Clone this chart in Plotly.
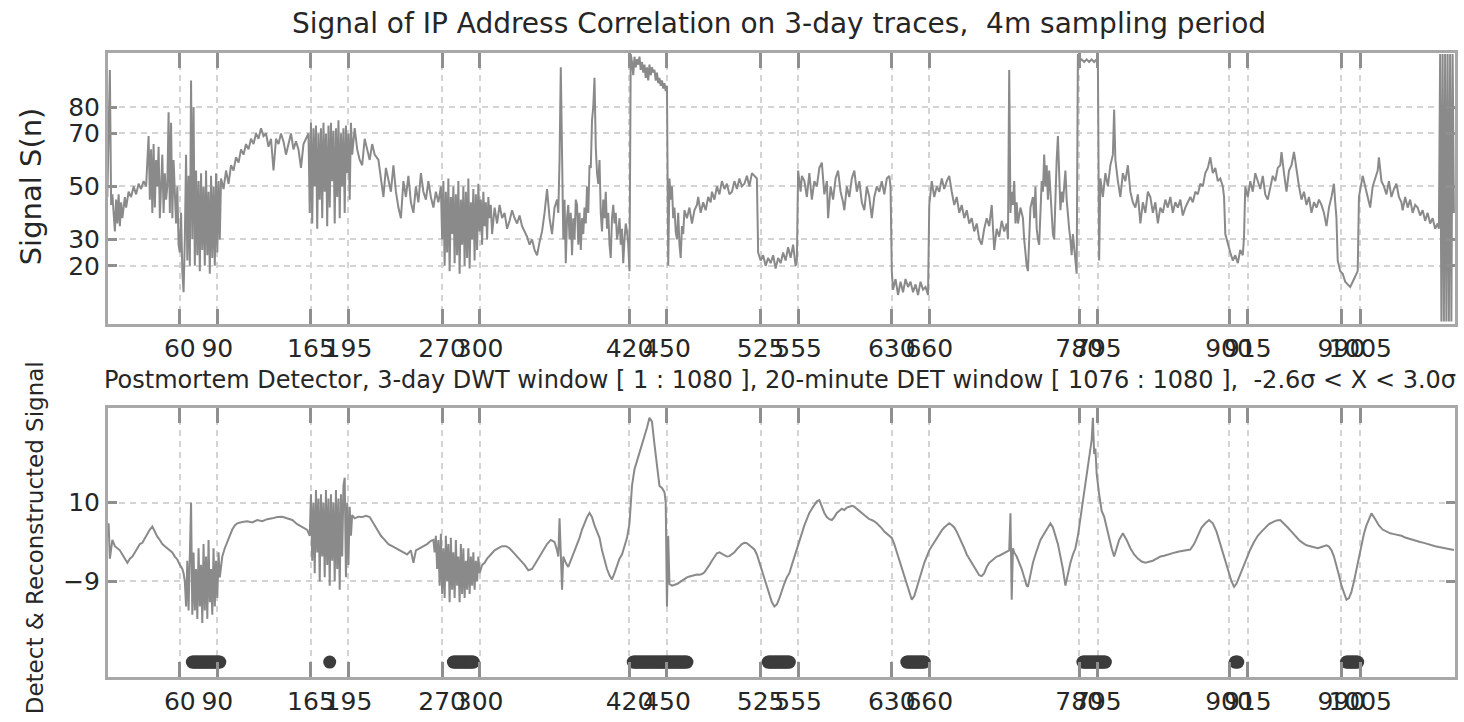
import plotly.graph_objects as go

# ---------------- data ----------------
top_signal = [
    (2,46),(4,94),(5,43),(6,47),(8,33),(9,45),(10,36),(11,47),(12,35),(13,44),(14,38),(16,46),(17,42),
    (19,48),(21,46),(23,50),(25,47),(27,51),(29,49),(31,52),(33,50),
    (35,69),(36,45),(37,64),(38,40),(39,66),(40,42),(41,60),(42,50),(43,65),(44,38),(45,48),(46,62),(47,40),
    (48,55),(49,45),(50,50),(51,78),(52,40),(53,74),(54,38),(55,60),(56,45),(57,36),(58,50),(59,28),(60,25),
    (61,40),(62,18),(63,10),(64,30),(65,62),(66,22),(67,54),(68,20),(69,90),(70,30),(71,80),(72,20),(73,56),
    (74,24),(75,52),(76,18),(77,55),(78,26),(79,50),(80,20),(81,56),(82,24),(83,48),(84,17),(85,54),(86,23),
    (87,50),(88,20),(89,55),(90,25),(91,52),(92,30),
    (93,53),(95,49),(97,56),(99,51),(101,58),(103,56),(105,61),(107,59),(109,64),(111,62),(113,66),(115,64),
    (117,68),(119,66),(121,70),(123,68),
    (125,72),(127,69),(129,70),(131,65),(133,68),(135,56),(137,68),(139,66),(141,70),(143,67),(145,62),
    (147,66),(149,70),(151,64),(153,67),(155,64),(157,57),(159,66),(161,68),(163,70),
    (164,40),(165,74),(166,36),(167,72),(168,50),(169,73),(170,34),(171,70),(172,45),(173,72),(174,38),
    (175,74),(176,48),(177,70),(178,35),(179,73),(180,42),(181,74),(182,52),(183,71),(184,36),(185,72),
    (186,46),(187,75),(188,38),(189,70),(190,50),(191,72),(192,40),(193,73),(194,55),(195,70),(196,45),
    (197,74),(198,62),
    (200,72),(202,64),(204,60),(206,58),(208,68),(210,64),(212,60),(214,66),(216,62),
    (219,60),(221,52),(223,46),(225,57),(227,53),(229,48),(231,58),(233,48),(235,42),(237,38),(239,52),
    (241,46),(243,54),(245,44),(247,40),(249,50),(251,44),(253,55),(255,48),(257,45),(259,52),(261,46),
    (263,42),(265,48),(267,44),(269,50),
    (270,30),(271,52),(272,20),(273,48),(274,25),(275,53),(276,18),(277,46),(278,32),(279,50),(280,21),
    (281,47),(282,24),(283,52),(284,17),(285,45),(286,28),(287,50),(288,20),(289,48),(290,23),(291,53),
    (292,19),(293,44),(294,30),(295,49),(296,22),(297,47),(298,26),(299,51),(300,33),(301,45),(302,28),
    (303,48),(304,35),(305,44),(306,30),(307,46),(308,38),(309,43),(310,32),(312,42),(314,36),
    (316,43),(318,38),(320,40),(322,34),(324,37),(326,41),(328,38),(330,36),(332,39),(334,35),(336,33),
    (338,31),(340,28),(342,30),(344,26),(346,24),(348,29),(350,33),(352,40),(354,49),(356,38),(358,32),
    (360,42),(362,45),
    (363,40),(364,60),(365,95),(366,55),(367,30),(368,45),(369,21),(370,38),(371,43),(372,30),(373,40),
    (374,24),(375,38),(376,30),(377,45),(378,43),(379,28),(380,40),(381,26),(382,38),(383,32),(384,42),
    (385,36),(386,50),(387,40),(388,58),(389,57),(390,75),(391,80),(392,91),(393,65),(394,55),(395,51),
    (396,60),(397,40),(398,33),(399,45),(400,38),(401,48),(402,34),(403,40),(404,28),(405,23),(406,38),
    (407,43),(408,36),(409,40),(410,30),(411,33),(412,38),(413,28),(414,34),(415,21),(416,30),(417,36),
    (418,33),(419,28),(420,18),
    (421,100),(422,97),(423,92),(424,99),(425,95),(426,98),(427,96),(428,99),(429,94),(430,97),(431,93),
    (432,96),(433,91),(434,95),(435,90),(436,96),(437,92),(438,95),(439,93),(440,94),(441,90),(442,93),
    (443,89),(444,91),(445,88),(446,90),(447,87),(448,89),(449,86),(450,88),(451,20),
    (452,53),(453,45),(454,50),(455,38),(456,42),(457,33),(458,30),(459,40),(460,28),(461,23),(462,35),
    (463,32),(464,41),(466,38),(468,42),(470,36),(472,41),(474,43),(475,46),(477,40),(479,44),(481,41),
    (483,46),(485,44),(486,48),(488,45),(490,50),(492,47),(494,52),(496,49),(498,51),(500,47),(502,48),
    (504,52),(506,49),(508,53),(510,50),(512,51),(514,54),(516,50),(518,55),(520,54),(522,53),
    (523,25),(525,22),(527,24),(529,20),(531,23),(533,21),(535,24),(537,19),(539,23),(541,21),(543,25),
    (545,22),(547,27),(549,23),(551,28),(553,20),(554,22),
    (555,56),(557,48),(558,54),(560,52),(562,46),(564,55),(566,45),(568,52),(570,50),(572,57),(574,59),
    (576,47),(578,52),(579,38),(581,50),(583,45),(585,53),(587,56),(589,48),(591,44),(592,41),(594,50),
    (596,46),(598,53),(600,56),(602,48),(604,52),(606,44),(608,41),(610,50),(612,46),(614,38),(616,46),
    (618,50),(620,48),(622,52),(624,47),(626,53),(628,54),(629,50),
    (630,18),(631,11),(633,15),(635,9),(637,14),(639,10),(641,15),(643,12),(645,14),(647,10),(649,13),
    (651,9),(653,14),(655,11),(657,12),(659,9),
    (660,43),(662,52),(664,46),(666,50),(668,48),(670,53),(672,49),(674,52),(676,54),(678,48),(680,43),
    (682,46),(684,40),(686,43),(688,38),(690,41),(692,36),(694,38),(696,33),(698,36),(700,30),(702,28),
    (704,34),(706,38),(708,35),(710,43),(711,32),(712,26),(714,34),(716,31),(718,37),(720,33),(722,36),
    (723,30),
    (724,94),(725,40),(726,48),(727,43),(728,52),(729,36),(730,44),(731,36),(733,42),(735,38),(736,30),
    (737,24),(738,20),(739,18),(740,35),(741,42),(743,46),(744,38),(745,50),(746,34),(747,30),(748,28),
    (749,40),(750,52),(751,48),(752,62),(753,50),(754,58),(755,45),(756,56),(757,48),(758,40),(759,32),
    (760,30),(761,50),(762,60),(763,69),(764,52),(765,41),(766,48),(767,44),(768,50),(769,56),(770,45),
    (771,38),(772,34),(773,30),(774,24),(775,32),(776,28),(777,22),(778,17),
    (779,100),(780,97),(782,98),(784,97),(786,98),(788,97),(790,98),(792,97),(794,98),(795,97),(796,22),
    (797,53),(799,46),(801,55),(803,50),(805,58),(807,62),(808,79),(809,60),(811,52),(813,46),(815,55),
    (817,52),(819,58),(821,48),(823,44),(825,42),(827,47),(829,36),(831,44),(833,40),(835,48),(837,46),
    (839,40),(841,44),(843,36),(845,42),(847,40),(849,45),(851,42),(853,46),(855,40),(857,44),(859,42),
    (861,45),(863,39),(865,42),(867,44),(869,46),(871,44),(873,48),(875,47),(877,51),(879,50),(881,55),
    (883,57),(885,61),(887,55),(889,57),(891,52),(893,53),(895,50),(896,46),
    (897,32),(899,28),(901,25),(903,22),(905,24),(907,21),(909,26),(911,24),(912,31),
    (913,50),(915,46),(917,52),(919,48),(921,55),(923,52),(925,49),(927,54),(929,47),(931,45),(933,50),
    (935,54),(937,52),(939,57),(941,58),(942,63),(944,55),(946,48),(948,56),(950,58),(952,63),(954,56),
    (956,50),(958,45),(960,48),(962,43),(964,46),(966,40),(968,44),(970,42),(972,45),(974,43),(976,40),
    (978,35),(980,42),(982,46),(984,51),(985,44),(986,38),
    (987,22),(989,18),(991,17),(993,14),(995,13),(997,12),(999,14),(1001,16),(1003,18),
    (1004,46),(1006,52),(1007,54),(1009,50),(1011,46),(1013,42),(1015,50),(1017,53),(1019,56),(1020,61),
    (1022,52),(1024,50),(1026,47),(1028,52),(1030,46),(1032,49),(1034,51),(1036,46),(1038,44),(1039,41),
    (1041,46),(1043,42),(1045,45),(1047,40),(1049,43),(1051,42),(1053,39),(1055,41),(1057,37),(1059,40),
    (1061,36),(1063,38),(1065,34),(1067,36),(1068,34),
    (1069,100),(1070,-1),(1071,100),(1072,-1),(1073,100),(1074,-1),(1075,100),(1076,-1),(1077,100),
    (1078,-1),(1079,100),(1080,40),
]

bottom_signal = [
    (2,2),(3,5),(4,-3.5),(6,1),(8,-0.5),(10,-1),(12,-1.5),(14,-2.5),(16,-3.5),(18,-4.5),(20,-3.5),(22,-3),
    (24,-2),(26,-1),(28,0),(30,0.3),(32,1.5),(34,2.5),(36,3.5),(38,4.2),(40,3),(42,1.8),(44,1),(46,0),
    (48,-0.5),(50,-1),(52,-1.3),(54,-2),(56,-3),(58,-3.7),(60,-5),(62,-6),(63,-7),
    (64,-9),(65,-15),(66,-4),(67,-16),(68,-5),(69,10),(70,-17),(71,-2),(72,-16),(73,-6),(74,-18),(75,-1),
    (76,-15),(77,-5),(78,-19),(79,0),(80,-16),(81,-3),(82,-18),(83,1),(84,-14),(85,-6),(86,-17),(87,-1),
    (88,-15),(89,-4),(90,-13),(91,-2),(92,-8),
    (94,-3),(96,-1),(98,0.5),(100,2),(102,3.5),(104,4.5),(106,5),(110,5.3),(114,5.5),(118,5.2),(122,5.8),
    (126,5.5),(130,6),(134,6.2),(138,6.5),(142,6.6),(146,6.2),(150,5.8),(154,4.8),(158,4),(162,3.4),
    (164,2),(165,12),(166,-4),(167,10),(168,-7),(169,13),(170,-2),(171,11),(172,-9),(173,12),(174,-3),
    (175,10),(176,-8),(177,13),(178,-5),(179,11),(180,-10),(181,12),(182,-4),(183,10),(184,-9),(185,13),
    (186,-6),(187,11),(188,-11),(189,12),(190,-3),(191,14),(192,16),(193,-8),(194,10),(195,-5),(196,9),
    (197,2),(198,7),
    (200,6.2),(203,6.6),(206,6.5),(209,6.8),(212,6.5),(215,5),(218,3.5),(221,2),(224,1),(227,0),(230,-0.5),
    (233,-1),(236,-1.3),(239,-2),(242,-2.5),(245,-1.5),(247,-4.5),(249,-1.5),(252,-1),(255,-0.5),(258,0),
    (261,0.8),(263,1),
    (264,-2),(265,2),(266,-6),(267,1),(268,-10),(269,2.5),(270,-12),(271,-1),(272,-13),(273,2),(274,-9),
    (275,0),(276,-14),(277,1.5),(278,-11),(279,-2),(280,-13),(281,1),(282,-10),(283,-3),(284,-14),(285,0),
    (286,-12),(287,-1),(288,-13),(289,-4),(290,-11),(291,-1),(292,-12),(293,-3),(294,-10),(295,-2),
    (296,-11),(297,-4),(298,-9),(299,-3),(300,-7),(302,-5),(304,-4.5),
    (306,-3.5),(309,-2.5),(312,-1.5),(315,-1),(318,-0.5),(321,-0.5),(324,-1),(327,-2),(330,-3),(333,-4),
    (336,-5),(339,-6.3),(342,-6),(345,-4.5),(348,-3),(351,-1.5),(354,0),(357,1),(360,0.5),(362,-1.5),
    (363,-3),(364,6.2),(365,-1),(366,-11),(367,-3),(369,-4.5),(371,-5.5),(373,-4),(375,-2.5),(377,-1),
    (380,1.5),(382,3.5),(384,5),(386,6.5),(388,7.5),(390,6.5),(392,4.5),(394,3),(396,1.5),(398,-1.5),
    (400,-4),(402,-6),(404,-7.5),(406,-8.5),(408,-7),(410,-5),(412,-3.5),(414,-2.5),(416,-0.5),(418,1.5),
    (420,5),(422,14),(424,18),(426,20),(428,22),(430,23.5),(432,25.5),(434,28),(436,30.4),(438,29.5),
    (440,24),(442,19),(444,14),(446,13.5),(448,12.5),(449,10),(450,-15),(451,2),(452,-9.6),(454,-10),
    (456,-9.8),(458,-9.6),(460,-9.2),(462,-8.8),(464,-8.2),(466,-8),(468,-7.8),(470,-7.6),(472,-7.5),
    (474,-7.3),(476,-7.4),(478,-7.2),(480,-6.8),(482,-6),(484,-5),(486,-4),(488,-3),(490,-2.2),(492,-2),
    (494,-2.4),(496,-2.8),(498,-3),(500,-2.9),(502,-2.5),(504,-2),(506,-1.2),(508,-0.5),(510,0),(512,0.3),
    (514,0.2),(516,-0.3),(518,-0.8),(520,-1.3),(522,-2.5),(524,-4.5),(526,-6.5),(528,-8.5),(530,-10.5),
    (532,-12.5),(534,-14),(536,-15),(538,-14.5),(540,-13),(542,-11),(544,-9.5),(546,-8),(548,-7),(550,-5),
    (552,-3),(554,-1),(556,1),(558,3),(560,4.5),(562,6),(564,7.5),(566,8.5),(568,9.5),(570,10.3),
    (572,10.6),(574,9),(576,7.5),(578,6.5),(580,6),(582,5.8),(584,6.5),(586,7.5),(588,8),(590,8.5),
    (592,8.2),(594,8.8),(596,9),(598,9.2),(600,9),(602,8.6),(604,8),(606,7.5),(608,7),(610,6.6),(612,6),
    (614,5.8),(616,5.5),(618,5),(620,4.5),(622,3.8),(624,3),(626,2.5),(628,2),(630,1.5),(632,0),(634,-2),
    (636,-4),(638,-6),(640,-8),(642,-10),(644,-12),(646,-13.4),(648,-12.5),(650,-10.5),(652,-8),(654,-6),
    (656,-4.5),(658,-3),(660,-1.5),(662,-0.5),(664,0.5),(666,1.5),(668,2.5),(670,3.3),(672,4),(674,4.6),
    (676,5),(678,4.6),(680,4),(682,3),(684,1.8),(686,0.5),(688,-1),(690,-2.5),(692,-3.5),(694,-4.5),
    (696,-5.5),(698,-6.5),(700,-7.5),(702,-7.7),(704,-7),(706,-5.5),(708,-4.5),(710,-4),(712,-3.5),
    (714,-3),(716,-2.8),(718,-2.5),(720,-2.3),(722,-2),(724,-1.5),(725,7.4),(726,-13.4),(727,-1),(728,-2),
    (730,-3),(732,-4.5),(734,-6),(736,-8),(738,-10),(739,-10.3),(741,-7),(743,-4.5),(745,-2.5),(747,-0.5),
    (749,1),(751,2),(753,3),(755,4),(757,5),(759,4),(761,2),(763,0),(765,-3),(767,-6),(769,-10),(771,-7),
    (773,-4.5),(775,-2.5),(777,-1),(779,2),(781,6),(783,10),(785,14),(787,18),(789,23),(790,25),(791,30.4),
    (792,21.7),(793,23),(794,17),(796,12),(798,8),(800,6.6),(802,4),(804,1),(806,-1),(808,-3),(810,-1),
    (812,1),(815,2.6),(818,1),(821,-1),(824,-2.5),(827,-3.5),(830,-4.2),(833,-4.5),(836,-4.3),(839,-4),
    (842,-3.5),(845,-3),(848,-2.8),(851,-2.5),(854,-2.2),(857,-2),(860,-1.8),(863,-1.6),(866,-1.5),
    (869,-1.3),(872,0),(875,2),(878,4),(881,5),(884,5.8),(887,5),(890,3),(893,0),(896,-3),(899,-6),
    (902,-9),(904,-10.3),(906,-9.5),(908,-8),(910,-6.5),(912,-5),(914,-3.5),(917,-1.3),(920,0.5),(923,2),
    (926,3),(929,4),(932,4.8),(935,5.3),(938,5.7),(941,5.8),(944,5),(947,4),(950,3),(953,2),(956,1),
    (959,0.3),(962,-0.3),(965,-0.5),(968,-0.8),(971,-1),(974,-0.7),(976,-0.5),(978,-0.3),(980,-0.6),
    (982,-1.5),(984,-3),(986,-5),(988,-7.5),(990,-10),(992,-12),(994,-13.4),(996,-13),(998,-11.5),
    (1000,-9),(1002,-6),(1004,-3),(1006,0),(1008,2.5),(1010,4.5),(1012,6),(1014,7.4),(1016,6.5),
    (1018,5.5),(1020,4.5),(1023,3.5),(1026,3),(1029,2.6),(1032,2.4),(1035,2.2),(1038,2),(1041,1.6),
    (1044,1.3),(1047,1),(1050,0.8),(1053,0.5),(1056,0.3),(1059,0),(1062,-0.2),(1065,-0.5),(1068,-0.7),
    (1071,-0.9),(1074,-1.1),(1077,-1.3),(1080,-1.4),
]

# detected sample intervals (start, end), drawn at a fixed level below the signal
det_start = [70, 180, 279, 423, 531, 642, 783, 905, 994]
det_end = [92, 180, 295, 466, 548, 656, 801, 907, 1003]
det_level = -28.4

x_tick_vals = [60, 90, 165, 195, 270, 300, 420, 450, 525, 555, 630, 660, 780, 795, 900, 915, 990, 1005]
x_tick_text = [str(v) for v in x_tick_vals]
top_y_ticks = [20, 30, 50, 70, 80]
bot_y_ticks = [10, -9]

title_text = "Signal of IP Address Correlation on 3-day traces,  4m sampling period"
sub_title = ("Postmortem Detector, 3-day DWT window [ 1 : 1080 ], 20-minute DET window "
             "[ 1076 : 1080 ],  -2.6σ < X < 3.0σ")
top_ylabel = "Signal S(n)"
bot_ylabel = "Detect & Reconstructed Signal"

# ---------------- figure ----------------
top_x = [p[0] for p in top_signal]
top_y = [p[1] for p in top_signal]
bot_x = [p[0] for p in bottom_signal]
bot_y = [p[1] for p in bottom_signal]
det_x = []
for s, e in zip(det_start, det_end):
    det_x.extend(range(s, e + 1))

FONT = "DejaVu Sans, Verdana, sans-serif"
TXT = "#262626"
LINE = "#8a8a8a"

fig = go.Figure()
fig.add_trace(go.Scatter(x=top_x, y=top_y, mode="lines", line=dict(color=LINE, width=2),
                         xaxis="x", yaxis="y", showlegend=False, hoverinfo="skip"))
fig.add_trace(go.Scatter(x=bot_x, y=bot_y, mode="lines", line=dict(color=LINE, width=2),
                         xaxis="x2", yaxis="y2", showlegend=False, hoverinfo="skip"))
fig.add_trace(go.Scatter(x=det_x, y=[det_level] * len(det_x), mode="markers",
                         marker=dict(color="#3c3c3c", size=13, line=dict(width=0)),
                         xaxis="x2", yaxis="y2", showlegend=False, hoverinfo="skip"))

xcommon = dict(range=[2.5, 1080.9], tickmode="array", tickvals=x_tick_vals, ticktext=x_tick_text,
               tickangle=0, tickfont=dict(family=FONT, size=25, color=TXT),
               showgrid=True, gridcolor="#d4d4d4", gridwidth=2, griddash="6px,5px",
               showline=True, linecolor="#a8a8a8", linewidth=3, mirror="ticks",
               ticks="inside", ticklen=15, tickwidth=3, tickcolor="#8f8f8f", zeroline=False)
ycommon = dict(tickmode="array", tickfont=dict(family=FONT, size=25, color=TXT),
               showgrid=True, gridcolor="#d4d4d4", gridwidth=2, griddash="6px,5px",
               showline=True, linecolor="#a8a8a8", linewidth=3, mirror="ticks",
               ticks="inside", ticklen=9, tickwidth=3, tickcolor="#8f8f8f", zeroline=False)

fig.update_layout(
    width=1464, height=722,
    margin=dict(l=108, r=6, t=53, b=36),
    paper_bgcolor="white", plot_bgcolor="white",
    font=dict(family=FONT, color=TXT),
    xaxis=dict(domain=[0, 1], anchor="y", **xcommon),
    yaxis=dict(domain=[0.5656, 1], anchor="x", range=[-2, 100.4], tickvals=top_y_ticks, **ycommon),
    xaxis2=dict(domain=[0, 1], anchor="y2", **xcommon),
    yaxis2=dict(domain=[0, 0.4313], anchor="x2", range=[-32, 32.8], tickvals=bot_y_ticks, **ycommon),
    title=dict(text=title_text, x=779 / 1464, xref="container", xanchor="center",
               y=1 - 23 / 722, yref="container", yanchor="middle",
               font=dict(family=FONT, size=28, color=TXT)),
    annotations=[
        dict(text=sub_title, xref="paper", yref="paper", x=0.499, y=0.4755,
             xanchor="center", yanchor="middle", showarrow=False,
             font=dict(family=FONT, size=24, color=TXT)),
        dict(text=top_ylabel, xref="paper", yref="paper", x=-0.057, y=0.7867, textangle=-90,
             xanchor="center", yanchor="middle", showarrow=False,
             font=dict(family=FONT, size=29, color=TXT)),
        dict(text=bot_ylabel, xref="paper", yref="paper", x=-0.054, y=0.2227, textangle=-90,
             xanchor="center", yanchor="middle", showarrow=False,
             font=dict(family=FONT, size=23, color=TXT)),
    ],
)

fig.write_html("out.html")
